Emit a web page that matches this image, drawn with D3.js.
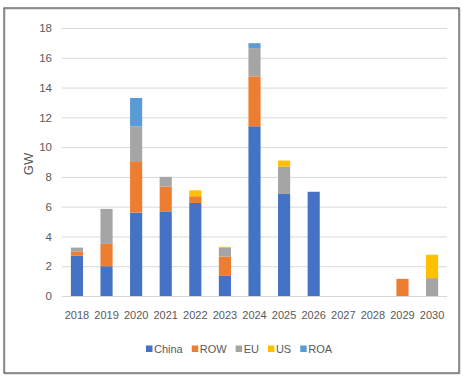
<!DOCTYPE html>
<meta charset="utf-8">
<script src="https://d3js.org/d3.v7.min.js"></script>
<style>
  body { margin: 0; background: #fff; }
  text { font-family: "Liberation Sans", "DejaVu Sans", sans-serif; fill: #595959; }
</style>
<div id="my_dataviz"></div>
<script>

// data
var years = ["2018","2019","2020","2021","2022","2023","2024","2025","2026","2027","2028","2029","2030"];
var seriesNames = ["China", "ROW", "EU", "US", "ROA"];
var china = [2.7, 2.0, 5.6, 5.65, 6.25, 1.35, 11.4, 6.85, 7.0, 0, 0, 0, 0];
var row   = [0.3, 1.5, 3.4, 1.7, 0.45, 1.3, 3.35, 0, 0, 0, 0, 1.15, 0];
var eu    = [0.25, 2.35, 2.4, 0.65, 0, 0.58, 1.9, 1.85, 0, 0, 0, 0, 1.2];
var us    = [0, 0, 0, 0, 0.4, 0.07, 0, 0.4, 0, 0, 0, 0, 1.57];
var roa   = [0, 0, 1.9, 0, 0, 0, 0.33, 0, 0, 0, 0, 0, 0];
var yTicks = [0, 2, 4, 6, 8, 10, 12, 14, 16, 18];
var colors = ["#4472C4", "#ED7D31", "#A5A5A5", "#FFC000", "#5B9BD5"];

var W = 463, H = 381;
var margin = {top: 28, right: 16, bottom: 85, left: 62};
var width = 447 - margin.left,
    height = 296 - margin.top;

var root = d3.select("#my_dataviz").append("svg")
    .attr("width", W).attr("height", H);

// frame
root.append("rect")
    .attr("x", 5).attr("y", 9).attr("width", 455).attr("height", 365)
    .attr("fill", "none").attr("stroke", "#c8c8c8").attr("stroke-width", 1);
root.append("rect")
    .attr("x", 4).attr("y", 8).attr("width", 455).attr("height", 365)
    .attr("fill", "none").attr("stroke", "#5f5f5f").attr("stroke-width", 1.3);

var svg = root.append("g")
    .attr("transform", "translate(" + margin.left + "," + margin.top + ")");

var table = years.map(function(y, i) {
  return {year: y, China: china[i], ROW: row[i], EU: eu[i], US: us[i], ROA: roa[i]};
});
var stacked = d3.stack().keys(seriesNames)(table);

var x = d3.scaleBand().domain(years).range([0, width]).paddingInner(0.59).paddingOuter(0.3);
var y = d3.scaleLinear().domain([0, 18]).range([height, 0]);
var color = d3.scaleOrdinal().domain(seriesNames).range(colors);

// gridlines
svg.append("g")
  .call(d3.axisLeft(y).tickValues(yTicks).tickSize(-width).tickFormat(""))
  .call(function(g) { g.select(".domain").remove(); })
  .selectAll("line").attr("stroke", "#d9d9d9");

// y tick labels
svg.append("g")
  .call(d3.axisLeft(y).tickValues(yTicks).tickSize(0).tickPadding(10))
  .call(function(g) { g.select(".domain").remove(); })
  .selectAll("text")
    .style("font-size", "11.5px").attr("fill", "#595959")
    .style("font-family", "Liberation Sans, sans-serif");

// bars
svg.append("g")
  .selectAll("g")
  .data(stacked)
  .enter().append("g")
    .attr("fill", function(d) { return color(d.key); })
  .selectAll("rect")
  .data(function(d) { return d; })
  .enter().append("rect")
    .attr("x", function(d) { return x(d.data.year); })
    .attr("y", function(d) { return y(d[1]); })
    .attr("height", function(d) { return y(d[0]) - y(d[1]); })
    .attr("width", x.bandwidth());

// x labels
svg.append("g")
  .attr("transform", "translate(0," + height + ")")
  .call(d3.axisBottom(x).tickSize(0).tickPadding(15))
  .call(function(g) { g.select(".domain").remove(); })
  .selectAll("text")
    .style("font-size", "11px").attr("fill", "#595959")
    .style("font-family", "Liberation Sans, sans-serif");

// y axis title
root.append("text")
  .attr("transform", "translate(33,164) rotate(-90)")
  .attr("text-anchor", "middle")
  .style("font-size", "13px")
  .text("GW");

// legend
var legend = root.append("g").attr("transform", "translate(146,349)");
var lx = 0;
seriesNames.forEach(function(name, i) {
  legend.append("rect")
    .attr("x", lx).attr("y", -3.5).attr("width", 6.5).attr("height", 6.5)
    .attr("fill", colors[i]);
  var t = legend.append("text")
    .attr("x", lx + 8).attr("y", 4)
    .style("font-size", "11px")
    .text(name);
  lx += 8 + t.node().getComputedTextLength() + 9;
});

</script>
